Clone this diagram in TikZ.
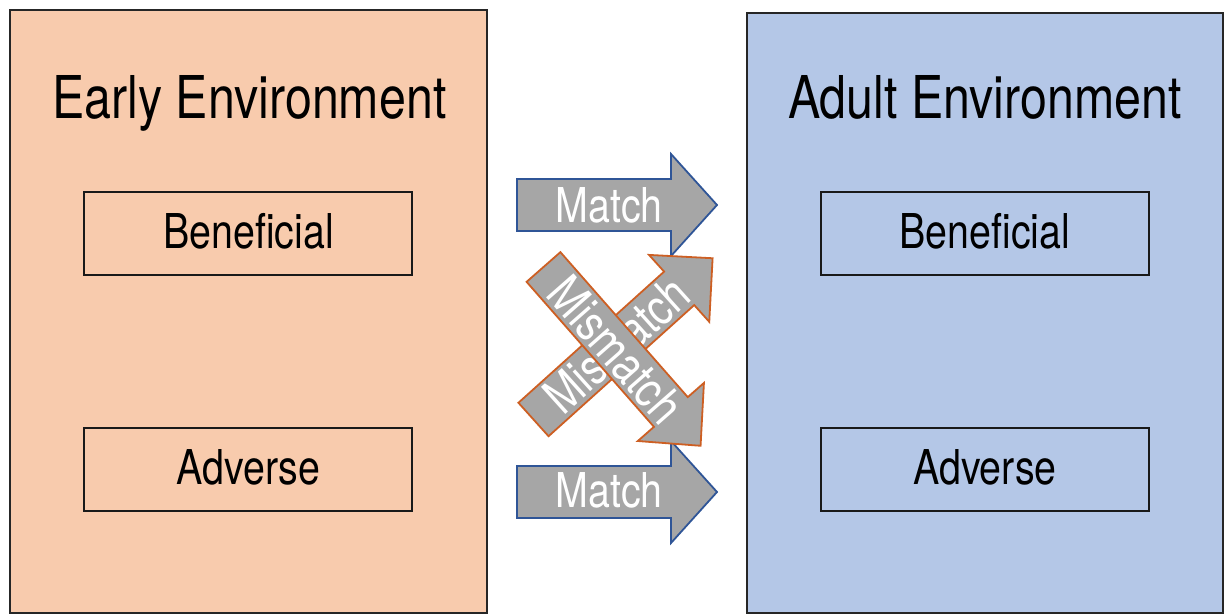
\documentclass[tikz,border=0pt]{standalone}
\usepackage{fontspec}
\setmainfont{TeX Gyre Heros}[FakeStretch=0.82]
\definecolor{peach}{RGB}{248,203,173}
\definecolor{paleblue}{RGB}{180,199,231}
\definecolor{arrowgray}{RGB}{166,166,166}
\definecolor{matchblue}{RGB}{47,85,151}
\definecolor{mismatchorange}{RGB}{205,95,35}
\begin{document}
\begin{tikzpicture}[x=1pt,y=1pt,
  envbox/.style={draw=black!85,line width=2.2pt},
  statebox/.style={draw=black!90,line width=2pt},
  title/.style={anchor=base,inner sep=0pt,font=\fontsize{59}{70}\selectfont},
  state/.style={anchor=base,inner sep=0pt,font=\fontsize{48}{56}\selectfont},
  matcharrow/.style={fill=arrowgray,draw=matchblue,line width=1.8pt,line join=miter},
  mismatcharrow/.style={fill=arrowgray,draw=mismatchorange,line width=1.8pt,line join=miter},
  arrowtext/.style={inner sep=0pt,text=white,font=\fontsize{48}{56}\selectfont},
  mismatchtext/.style={inner sep=0pt,text=white,font=\fontsize{50}{58}\selectfont}]
\useasboundingbox[fill=white] (0,0) rectangle (1224,614);

% environment panels
\draw[envbox,fill=peach] (10,1) rectangle (487,604);
\draw[envbox,fill=paleblue] (747,1) rectangle (1223,601);
\node[title] (early) at (249.5,495) {Early Environment};
\node[title] (adult) at (985,495) {Adult Environment};

% states inside each panel
\draw[statebox] (84,339) rectangle (412,422);
\draw[statebox] (84,103) rectangle (412,186);
\draw[statebox] (821,339) rectangle (1149,422);
\draw[statebox] (821,103) rectangle (1149,186);
\node[state] (eb) at (248.5,365) {Beneficial};
\node[state] (ea) at (248.5,130) {Adverse};
\node[state] (ab) at (985,365) {Beneficial};
\node[state] (aa) at (985,130) {Adverse};

% matching transitions
\draw[matcharrow,shift={(517,409)}]
  (0,-26) -- (154,-26) -- (154,-51) -- (200,0) -- (154,51) -- (154,26) -- (0,26) -- cycle;
\node[arrowtext,anchor=base] (m1) at (609,391) {Match};
\draw[matcharrow,shift={(517,122)}]
  (0,-26) -- (154,-26) -- (154,-51) -- (200,0) -- (154,51) -- (154,26) -- (0,26) -- cycle;
\node[arrowtext,anchor=base] (m2) at (609,107) {Match};

% mismatching transitions
\begin{scope}[shift={(533.5,194.5)},rotate=42]
  \draw[mismatcharrow]
    (0,-22.5) -- (196,-22.5) -- (196,-45) -- (241,0) -- (196,45) -- (196,22.5) -- (0,22.5) -- cycle;
  \node[mismatchtext,rotate=42] (mm1) at (112,0) {Mismatch};
\end{scope}
\begin{scope}[shift={(543.5,347)},rotate=-48.7]
  \draw[mismatcharrow]
    (0,-22.5) -- (193,-22.5) -- (193,-44) -- (238,0) -- (193,44) -- (193,22.5) -- (0,22.5) -- cycle;
  \node[mismatchtext,rotate=-48.7] (mm2) at (110,0) {Mismatch};
\end{scope}
\end{tikzpicture}
\end{document}
